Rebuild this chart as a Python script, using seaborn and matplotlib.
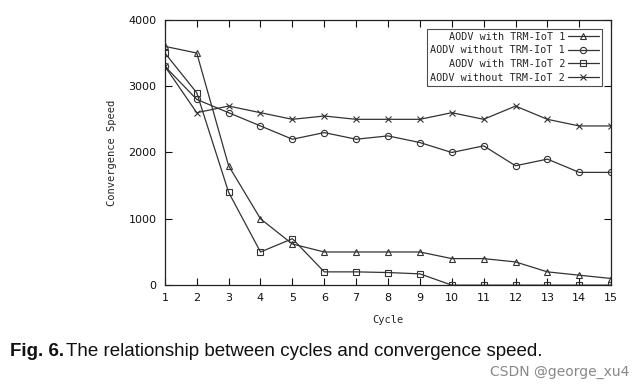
import matplotlib
matplotlib.use("Agg")
import matplotlib.pyplot as plt
import seaborn as sns
import pandas as pd

cycles = list(range(1, 16))
with_trm_1 = [3600, 3500, 1800, 1000, 620, 500, 500, 500, 500, 400, 400, 350, 200, 150, 100]
without_trm_1 = [3300, 2800, 2600, 2400, 2200, 2300, 2200, 2250, 2150, 2000, 2100, 1800, 1900, 1700, 1700]
with_trm_2 = [3500, 2900, 1400, 500, 700, 200, 200, 190, 170, 0, 0, 0, 0, 0, 0]
without_trm_2 = [3300, 2600, 2700, 2600, 2500, 2550, 2500, 2500, 2500, 2600, 2500, 2700, 2500, 2400, 2400]
labels = ["AODV with TRM-IoT 1", "AODV without TRM-IoT 1", "AODV with TRM-IoT 2", "AODV without TRM-IoT 2"]
markers = ["^", "o", "s", "x"]
series = [with_trm_1, without_trm_1, with_trm_2, without_trm_2]

sns.set_style("ticks")
plt.rcParams['font.family'] = ['DejaVu Sans']

fig = plt.figure(figsize=(6.44, 3.89), dpi=100)
ax = fig.add_axes([0.256, 0.267, 0.693, 0.682])

for lab, mk, vals in zip(labels, markers, series):
    df = pd.DataFrame({"Cycle": cycles, "Speed": vals})
    sns.lineplot(data=df, x="Cycle", y="Speed", ax=ax, color="#333333", linewidth=0.9,
                 marker=mk, markersize=4.5, markerfacecolor="none", markeredgecolor="#333333",
                 markeredgewidth=0.8, label=lab)

ax.set_xlim(1, 15)
ax.set_ylim(0, 4000)
ax.set_xticks(cycles)
ax.set_yticks([0, 1000, 2000, 3000, 4000])
ax.tick_params(direction="in", top=True, right=True, length=5, width=0.8, labelsize=8, colors="#111111", pad=6)
for s in ax.spines.values():
    s.set_linewidth(0.9)
    s.set_color("#222222")
ax.set_xlabel("Cycle", family="DejaVu Sans Mono", fontsize=7.5, labelpad=8)
ax.set_ylabel("Convergence Speed", family="DejaVu Sans Mono", fontsize=7.5, labelpad=8)

leg = ax.legend(loc="upper right", markerfirst=False, frameon=True, fancybox=False,
                prop={"family": "DejaVu Sans Mono", "size": 7.3}, handlelength=3.0,
                borderpad=0.3, labelspacing=0.35, handletextpad=0.3, bbox_to_anchor=(0.99, 0.985))
leg.get_frame().set_edgecolor("#222222")
leg.get_frame().set_linewidth(0.8)

fig.text(0.015, 0.085, "Fig. 6.", family="Liberation Sans", fontweight="bold", fontsize=13.5, color="#111111")
fig.text(0.103, 0.085, "The relationship between cycles and convergence speed.", family="Liberation Sans", fontsize=13.5, color="#111111")
fig.text(0.978, 0.035, "CSDN @george_xu4", family="DejaVu Sans", fontsize=10, color="#888888", ha="right")

fig.savefig("out.png", dpi=100)
